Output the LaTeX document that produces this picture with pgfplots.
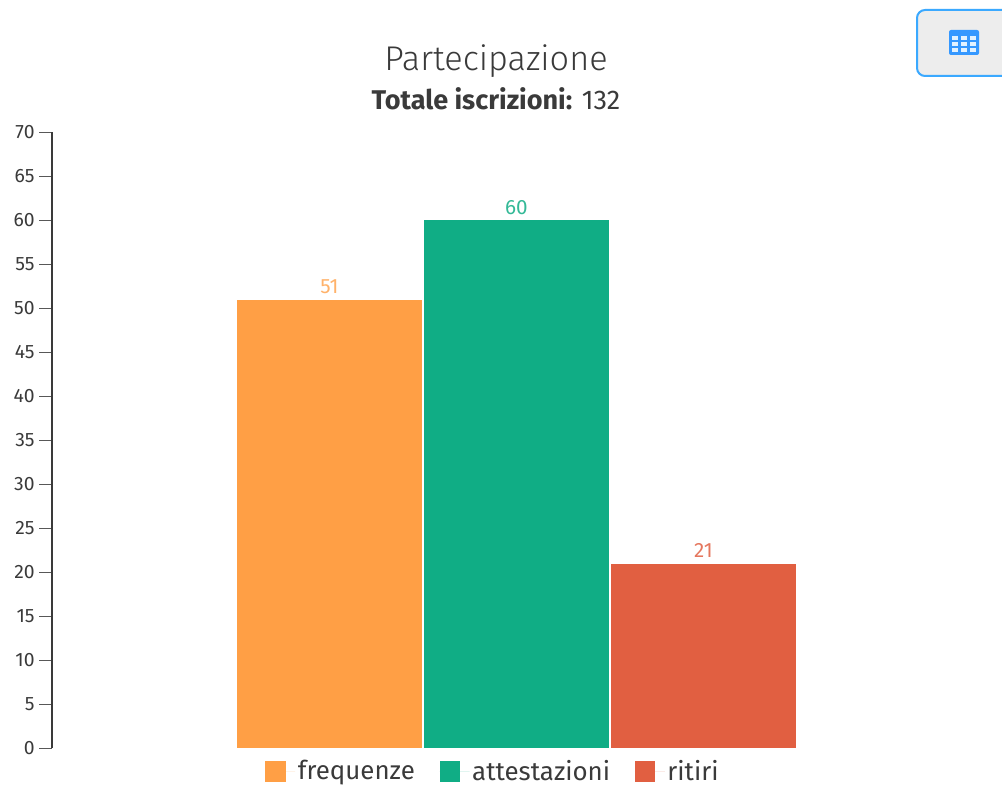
\documentclass[border=0pt]{standalone}
\usepackage{pgfplots}
\pgfplotsset{compat=1.18}
\usepackage{fontspec}
\setmainfont{Fira Sans}
\newfontfamily\lightfont{Fira Sans Light}
\definecolor{cOr}{HTML}{FF9F45}
\definecolor{cGr}{HTML}{10AD85}
\definecolor{cRe}{HTML}{E15F41}
\definecolor{cTx}{HTML}{3A3A3A}
\definecolor{cBl}{HTML}{3BA9FF}
\begin{document}
\begin{tikzpicture}[x=0.75pt,y=-0.75pt]
\useasboundingbox (0,0) rectangle (1002,787);
\begin{scope}
\clip (0,0) rectangle (1002,787);
\draw[cBl,line width=1.5pt,fill=black!7,rounded corners=6pt] (917,10) rectangle (1030,76);
\fill[cBl!90!blue,rounded corners=1.5pt] (949,30) rectangle (979,55);
\foreach \a in {0,1,2}\foreach \b in {0,1,2}{
  \fill[white!85!cBl] (951.5+\a*9,36+\b*6.2) rectangle (957.5+\a*9,40+\b*6.2);
}
\end{scope}
\node[anchor=center,font=\fontsize{25.7}{28}\selectfont,text=cTx] at (496,61.5) {{\lightfont Partecipazione}};
\node[anchor=center,font=\fontsize{20.3}{22}\selectfont,text=cTx] at (496,98.5) {\textbf{Totale iscrizioni:} 132};
\begin{axis}[
  at={(39pt,-561.25pt)},anchor=south west,
  scale only axis,width=696pt,height=462pt,
  xmin=-1.484,xmax=3.479,ymin=0,ymax=70,
  clip=false,
  axis x line=none,
  axis y line=left,
  axis line style={draw=cTx,line width=1.5pt,-},
  ytick={0,5,...,70},
  tick align=outside,
  major tick length=9.5pt,
  tick style={draw=cTx!85!white,line width=1.1pt},
  /pgf/number format/assume math mode=true,
  yticklabel style={font=\fontsize{14.5}{16}\selectfont,text=cTx,xshift=0pt},
  ybar,bar shift=0pt,bar width=138.75pt,
  nodes near coords,
  every node near coord/.append style={font=\fontsize{15.5}{17}\selectfont,yshift=1pt,/pgf/number format/assume math mode=true},
  legend style={draw=none,fill=none,at={(axis cs:-0.345,-1.0)},anchor=north west,
    legend columns=3,font=\fontsize{19.4}{22}\selectfont,text=cTx,inner sep=0pt,
    /tikz/every even column/.append style={column sep=16.5pt}},
  legend image code/.code={\fill[#1] (0pt,-7.8pt) rectangle (15.5pt,7.8pt);\path (0pt,0pt) -- (22.5pt,0pt);},
]
\addplot[fill=cOr,draw=none,every node near coord/.append style={text=cOr!80!white}] coordinates {(0,51)};
\addplot[fill=cGr,draw=none,every node near coord/.append style={text=cGr!85!white}] coordinates {(1,60)};
\addplot[fill=cRe,draw=none,every node near coord/.append style={text=cRe!85!white}] coordinates {(2,21)};
\legend{frequenze,attestazioni,ritiri}
\end{axis}
\end{tikzpicture}
\end{document}
